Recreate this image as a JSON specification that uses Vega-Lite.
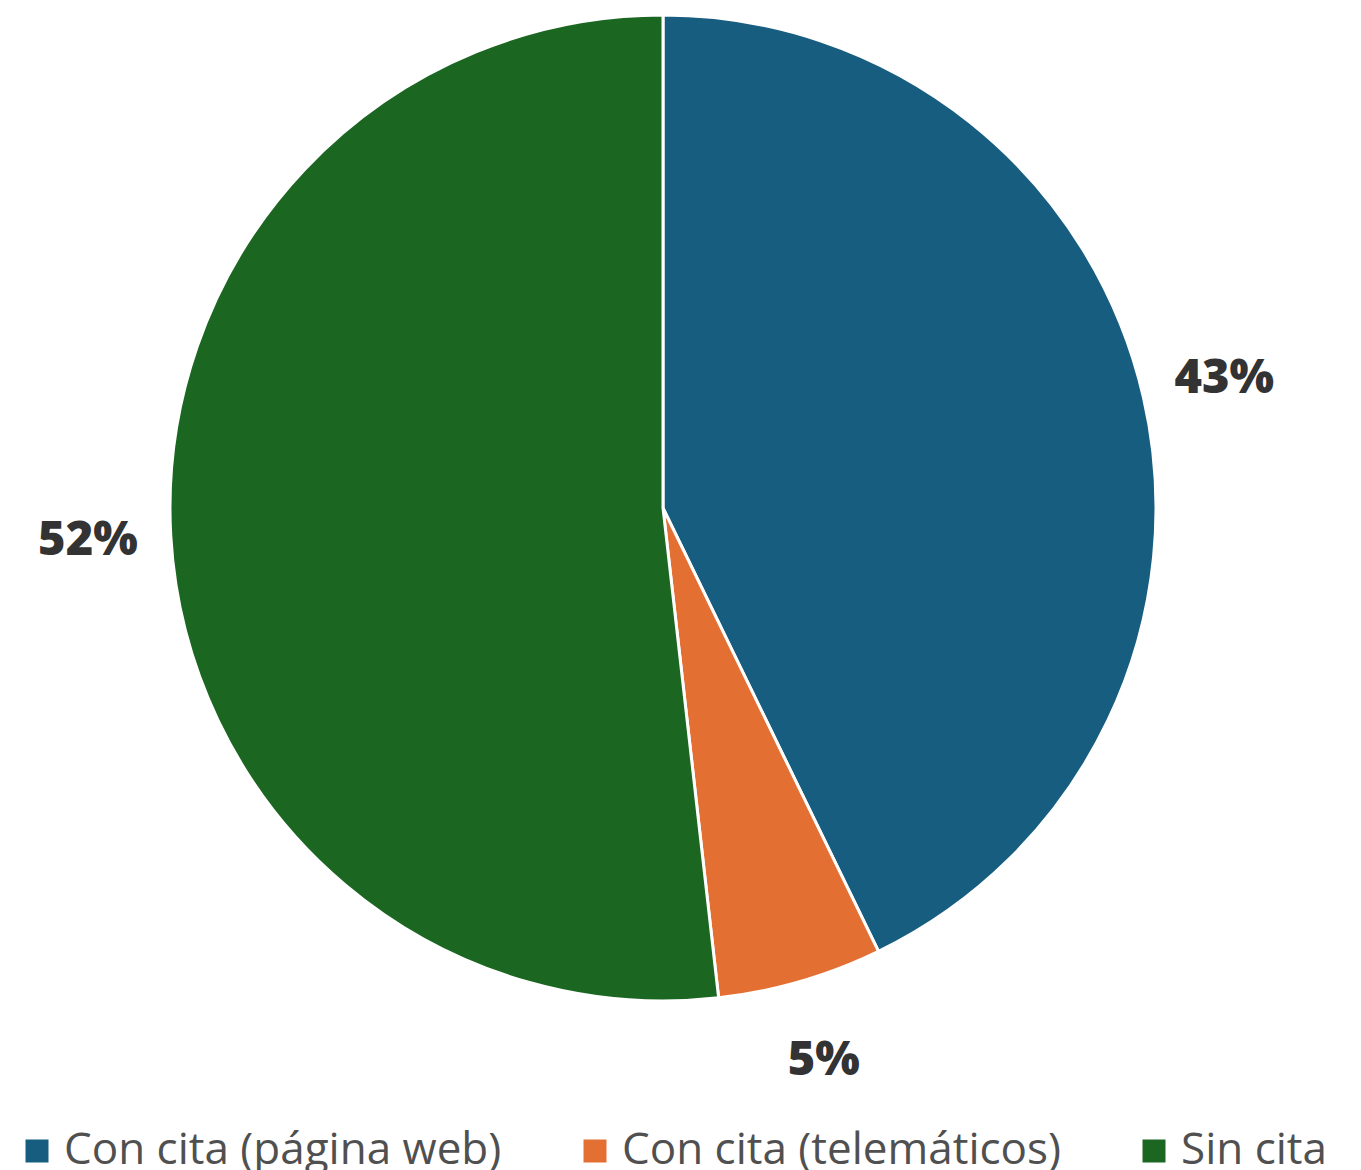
{
  "$schema": "https://vega.github.io/schema/vega-lite/v6.json",
  "width": 1326,
  "height": 1016,
  "padding": 0,
  "autosize": {"type": "pad"},
  "background": "white",
  "config": {"view": {"stroke": null}},
  "data": {
    "values": [
      {"categoria": "Con cita (página web)", "valor": 42.8, "etiqueta": "43%"},
      {"categoria": "Con cita (telemáticos)", "valor": 5.4, "etiqueta": "5%"},
      {"categoria": "Sin cita", "valor": 51.8, "etiqueta": "52%"}
    ]
  },
  "layer": [
    {
      "mark": {"type": "arc", "outerRadius": 493, "stroke": "white", "strokeWidth": 3},
      "encoding": {
        "theta": {"field": "valor", "type": "quantitative", "stack": true},
        "color": {
          "field": "categoria",
          "type": "nominal",
          "sort": ["Con cita (página web)", "Con cita (telemáticos)", "Sin cita"],
          "scale": {
            "domain": ["Con cita (página web)", "Con cita (telemáticos)", "Sin cita"],
            "range": ["#175d80", "#e46f33", "#1b6722"]
          },
          "legend": {
            "title": null,
            "orient": "none",
            "direction": "horizontal",
            "legendX": 15,
            "legendY": 1129,
            "padding": 0,
            "symbolType": "square",
            "symbolSize": 529,
            "symbolStrokeWidth": 0,
            "symbolOpacity": 1,
            "labelFont": "Open Sans",
            "labelFontSize": 44,
            "labelColor": "#505050",
            "labelLimit": 1000,
            "labelOffset": 5,
            "columnPadding": 71
          }
        },
        "order": {"field": "categoria", "sort": "ascending"}
      }
    },
    {
      "mark": {"type": "text", "radius": 576, "font": "Open Sans", "fontSize": 47, "fontWeight": 800, "color": "#333333"},
      "encoding": {
        "theta": {"field": "valor", "type": "quantitative", "stack": true},
        "detail": {"field": "categoria", "type": "nominal"},
        "order": {"field": "categoria", "sort": "ascending"},
        "text": {"field": "etiqueta", "type": "nominal"}
      }
    }
  ]
}
